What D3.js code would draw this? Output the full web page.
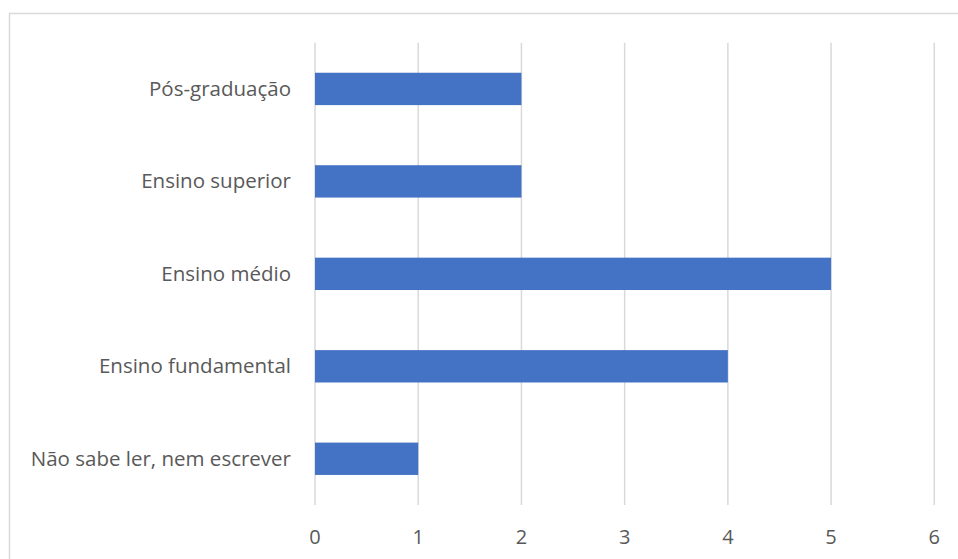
<!DOCTYPE html>
<html>
<head>
<meta charset="utf-8">
<script src="https://cdn.jsdelivr.net/npm/d3@7"></script>
<style>
  html, body { margin: 0; padding: 0; background: #fff; }
  svg { display: block; }
  text { font-family: "Open Sans", "Noto Sans", sans-serif; fill: #595959; }
</style>
</head>
<body>
<svg id="chart" width="958" height="559"></svg>
<script>
// Escolaridade: categorias (de baixo para cima) e contagens
const categories = [
  "Não sabe ler, nem escrever",
  "Ensino fundamental",
  "Ensino médio",
  "Ensino superior",
  "Pós-graduação"
];
const values = [1, 4, 5, 2, 2];
const xTicks = [0, 1, 2, 3, 4, 5, 6];

const svg = d3.select("#chart");
const W = 958, H = 559;

// chart frame (extends past the right and bottom edges)
svg.append("rect")
  .attr("x", 9.5).attr("y", 13.5)
  .attr("width", W + 20).attr("height", H + 20)
  .attr("fill", "#fff")
  .attr("stroke", "#d9d9d9").attr("stroke-width", 1.5);

const plot = { left: 315, right: 934.3, top: 42.7, bottom: 505 };

const x = d3.scaleLinear().domain([0, 6]).range([plot.left, plot.right]);
const y = d3.scaleBand()
  .domain(categories.slice().reverse())
  .range([plot.top, plot.bottom])
  .paddingInner(0.65).paddingOuter(0.325);

// vertical gridlines
svg.append("g").selectAll("line")
  .data(xTicks).join("line")
  .attr("x1", d => x(d)).attr("x2", d => x(d))
  .attr("y1", plot.top).attr("y2", plot.bottom)
  .attr("stroke", "#d9d9d9").attr("stroke-width", 1.5);

// bars
svg.append("g").selectAll("rect")
  .data(categories.map((c, i) => ({ c, v: values[i] }))).join("rect")
  .attr("x", x(0))
  .attr("y", d => y(d.c))
  .attr("width", d => x(d.v) - x(0))
  .attr("height", y.bandwidth())
  .attr("fill", "#4472c4");

// category labels
svg.append("g").selectAll("text")
  .data(categories).join("text")
  .attr("x", plot.left - 24)
  .attr("y", d => y(d) + y.bandwidth() / 2)
  .attr("dy", "0.33em")
  .attr("text-anchor", "end")
  .attr("font-size", 20.5)
  .text(d => d);

// x tick labels
svg.append("g").selectAll("text")
  .data(xTicks).join("text")
  .attr("x", d => x(d))
  .attr("y", 544)
  .attr("text-anchor", "middle")
  .attr("font-size", 20)
  .text(d => d);
</script>
</body>
</html>
